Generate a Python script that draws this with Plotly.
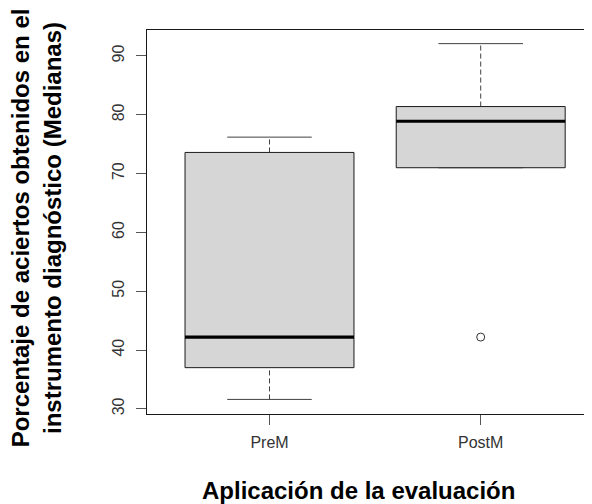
import plotly.graph_objects as go

# ---- data ----
categories = ["PreM", "PostM"]
lower_whisker = [31.6, 71.0]
q1_values = [37.0, 71.0]
medians = [42.2, 78.9]
q3_values = [73.6, 81.4]
upper_whisker = [76.2, 92.1]
outliers = [[], [42.2]]
y_ticks = [30, 40, 50, 60, 70, 80, 90]

FONT = "Liberation Sans, Arial, sans-serif"
BOX_HALF = 0.4
CAP_HALF = 0.2
FILL = "#D6D6D6"

# the page body adds an 8px offset; compensate so the picture lands as in the reference
OFF = 8
W, H = 592 - OFF, 504 - OFF
PL, PT, PB = 146.7 - OFF, 30 - OFF, 414 - OFF   # plot-area edges (figure pixels)
PW, PH = W - PL, PB - PT

fig = go.Figure()
positions = list(range(1, len(categories) + 1))

for i, pos in enumerate(positions):
    lo, q1, med, q3, hi = lower_whisker[i], q1_values[i], medians[i], q3_values[i], upper_whisker[i]
    # whiskers (dashed)
    for a, b in ((q3, hi), (lo, q1)):
        if b > a:
            fig.add_trace(go.Scatter(x=[pos, pos], y=[a, b], mode="lines",
                                     line=dict(color="#404040", width=1, dash="5px,3px"),
                                     hoverinfo="skip", showlegend=False))
    # caps
    for v in (hi, lo):
        fig.add_trace(go.Scatter(x=[pos - CAP_HALF, pos + CAP_HALF], y=[v, v], mode="lines",
                                 line=dict(color="#404040", width=1),
                                 hoverinfo="skip", showlegend=False))
    # box
    fig.add_trace(go.Scatter(x=[pos - BOX_HALF, pos + BOX_HALF, pos + BOX_HALF, pos - BOX_HALF, pos - BOX_HALF],
                             y=[q1, q1, q3, q3, q1], mode="lines", fill="toself",
                             fillcolor=FILL, line=dict(color="#1a1a1a", width=1),
                             hoverinfo="skip", showlegend=False))
    # median
    fig.add_trace(go.Scatter(x=[pos - BOX_HALF, pos + BOX_HALF], y=[med, med], mode="lines",
                             line=dict(color="black", width=3.2),
                             hoverinfo="skip", showlegend=False))
    # outliers
    if outliers[i]:
        fig.add_trace(go.Scatter(x=[pos] * len(outliers[i]), y=outliers[i], mode="markers",
                                 marker=dict(symbol="circle-open", size=8,
                                             color="#333", line=dict(width=1)),
                                 hoverinfo="skip", showlegend=False))

fig.update_layout(
    width=W, height=H,
    margin=dict(l=PL, r=0, t=PT, b=H - PB, autoexpand=False),
    paper_bgcolor="white", plot_bgcolor="white",
    font=dict(family=FONT, size=16, color="#222"),
    showlegend=False,
    xaxis=dict(range=[0.42, 2.527], tickvals=positions, ticktext=categories,
               showgrid=False, zeroline=False, showline=True, mirror=True,
               linecolor="#1a1a1a", linewidth=1,
               ticks="outside", ticklen=10, tickcolor="#555", tickwidth=1,
               ticklabelstandoff=4,
               tickfont=dict(size=16, color="#333")),
    yaxis=dict(range=[29.12, 94.42], tickvals=y_ticks,
               showgrid=False, zeroline=False, showline=True, mirror=False,
               linecolor="#1a1a1a", linewidth=1,
               ticks="outside", ticklen=10, tickcolor="#555", tickwidth=1,
               ticklabelstandoff=6,
               tickangle=-90, tickfont=dict(size=16, color="#333")),
    annotations=[
        dict(text="<b>Aplicación de la evaluación</b>", xref="paper", yref="paper",
             x=(358 - OFF - PL) / PW, y=-(490 - OFF - PB) / PH,
             xanchor="center", yanchor="middle", showarrow=False,
             font=dict(family=FONT, size=24, color="black")),
        dict(text="<b>Porcentaje de aciertos obtenidos en el<br>instrumento diagnóstico (Medianas)</b>",
             xref="paper", yref="paper",
             x=-(PL - (36 - OFF)) / PW, y=(PB - (228 - OFF)) / PH,
             xanchor="center", yanchor="middle", textangle=-90, showarrow=False,
             font=dict(family=FONT, size=24, color="black")),
    ],
)

fig.write_html("out.html")
